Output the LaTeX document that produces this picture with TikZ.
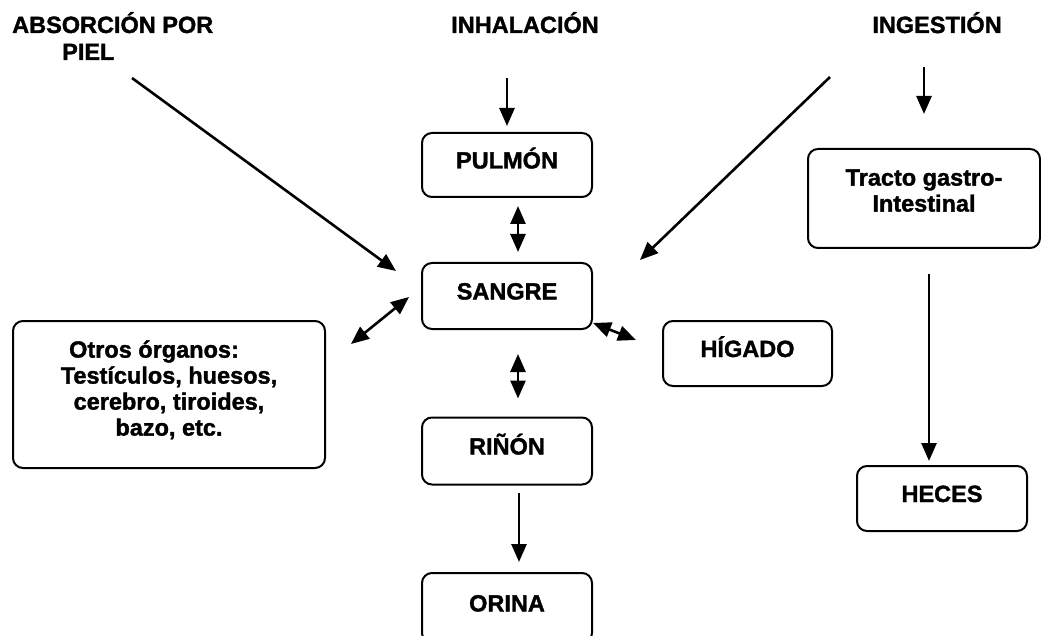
\documentclass[tikz,border=0pt]{standalone}
\usepackage{fontspec}
\setmainfont{Liberation Sans}[BoldFeatures={FakeBold=1.5}]
\usetikzlibrary{arrows.meta}

\tikzset{
  lbl/.style={font=\fontsize{23.5}{27}\selectfont\bfseries, inner sep=0pt},
  organ/.style={draw, line width=2pt, rounded corners=10pt, align=center,
    inner sep=0pt, font=\fontsize{23.5}{26}\selectfont\bfseries},
  organone/.style={organ, text height=17pt, text depth=10pt},
}

\begin{document}
\begin{tikzpicture}[x=1pt, y=-1pt, >={Triangle[length=18pt,width=15pt]},
    flow/.style={line width=2.6pt}]
  \useasboundingbox (0,0) rectangle (1041,636);
  \clip (0,0) rectangle (1041,636);

  % entry routes
  \node[lbl, anchor=base west, align=left] (absorcion) at (12,60) {ABSORCIÓN POR\\\hspace*{50pt}PIEL};
  \node[lbl, anchor=base] (inhal) at (525,33) {INHALACIÓN};
  \node[lbl, anchor=base] (ingest) at (937,33) {INGESTIÓN};

  % organs
  \node[organone, minimum width=170pt, minimum height=64pt] (pulmon) at (507,165) {PULMÓN};
  \node[organone, minimum width=170pt, minimum height=66pt] (sangre) at (507,296) {SANGRE};
  \node[organone, minimum width=170pt, minimum height=67pt] (rinon) at (507,451) {RIÑÓN};
  \node[organone, minimum width=170pt, minimum height=70pt] (orina) at (507,608) {ORINA};
  \node[organone, minimum width=169pt, minimum height=65pt] (higado) at (747.5,353.5) {HÍGADO};
  \node[organone, minimum width=170pt, minimum height=65pt] (heces) at (942,498.5) {HECES};
  \node[organ, minimum width=232pt, minimum height=99pt] (tracto) at (924,198.5)
    {Tracto gastro-\\Intestinal\rule[-16pt]{0pt}{16pt}};
  \node[organ, minimum width=312pt, minimum height=147pt] (otros) at (169,394.5)
    {Otros órganos:\hspace*{30pt}\\Testículos, huesos,\\cerebro, tiroides,\\bazo, etc.\rule[-13pt]{0pt}{13pt}};

  % connectors
  \draw[flow, ->] ([xshift=120pt,yshift=-18pt]absorcion.base west) -- ([xshift=-25pt,yshift=-9pt]sangre.north west);
  \draw[flow, ->, shorten <=45pt, shorten >=6pt] (inhal.south -| pulmon.north) -- (pulmon.north);
  \draw[flow, ->, shorten <=34pt, shorten >=34pt] (ingest.south -| tracto.north) -- (tracto.north);
  \draw[flow, ->] ([xshift=-107pt,yshift=-44pt]ingest.base) -- ([xshift=47pt,yshift=2pt]sangre.north east);
  \draw[flow, <->, shorten <=8pt, shorten >=10pt] ([xshift=11pt]pulmon.south) -- ([xshift=11pt]sangre.north);
  \draw[flow, <->] ([xshift=-12pt,yshift=-1pt]sangre.west) -- ([xshift=25pt,yshift=-24pt]otros.north east);
  \draw[flow, <->] ([yshift=7pt]sangre.south east) -- ([xshift=-26pt,yshift=13.5pt]higado.west);
  \draw[flow, <->, shorten <=24pt, shorten >=18pt] ([xshift=11pt]sangre.south) -- ([xshift=11pt]rinon.north);
  \draw[flow, ->, shorten <=7.5pt, shorten >=10pt] ([xshift=12pt]rinon.south) -- ([xshift=12pt]orina.north);
  \draw[flow, ->, shorten <=25pt, shorten >=4pt] ([xshift=5pt]tracto.south) -- ([xshift=-13pt]heces.north);
\end{tikzpicture}
\end{document}
